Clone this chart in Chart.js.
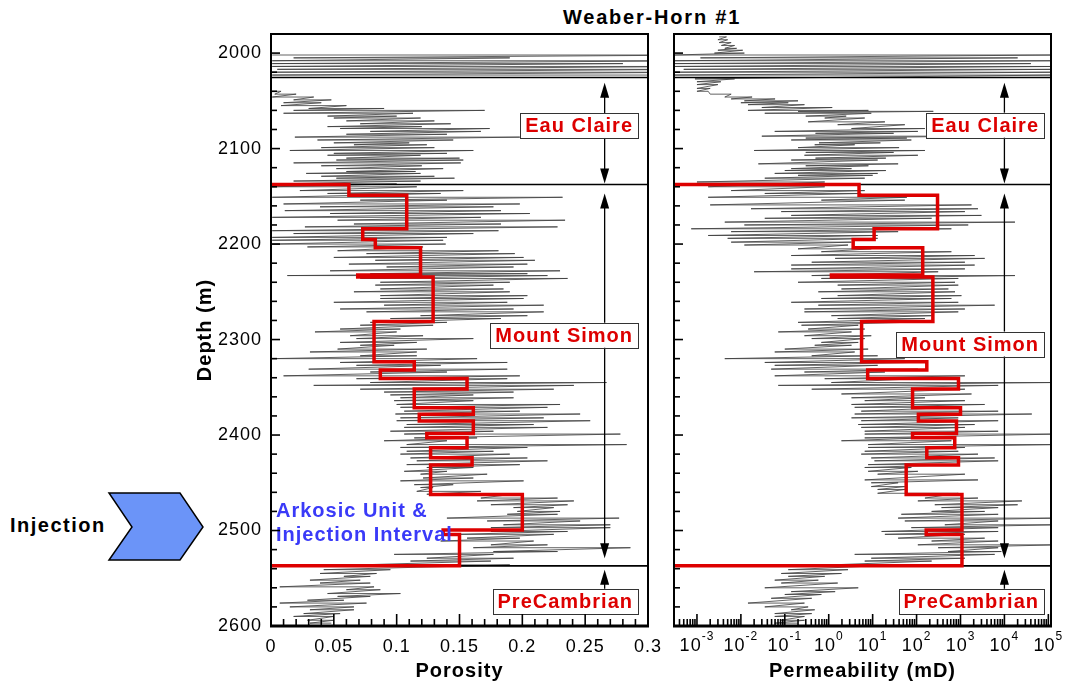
<!DOCTYPE html>
<html>
<head>
<meta charset="utf-8">
<script src="https://cdn.jsdelivr.net/npm/chart.js@4.4.1/dist/chart.umd.min.js"></script>
<style>
  html, body { margin: 0; padding: 0; background: #fff; }
  #wrap { position: relative; width: 1066px; height: 690px; overflow: hidden; font-family: "Liberation Sans", Arial, sans-serif; }
  #c1 { position: absolute; left: 0; top: 0; }
  #c2 { position: absolute; left: 660px; top: 0; }
  #title { position: absolute; left: 542px; width: 220px; top: 5px; line-height: 24px; text-align: center; font-weight: bold; font-size: 20px; letter-spacing: 1.8px; }
  #inj { position: absolute; left: 10px; top: 513px; line-height: 24px; font-weight: bold; font-size: 20px; letter-spacing: 1.5px; }
  #chev { position: absolute; left: 0; top: 0; }
</style>
</head>
<body>
<div id="wrap">
  <svg id="chev" width="230" height="690"><polygon points="109,493 180,493 203,527 180,560 109,560 132,527" fill="#6b94f8" stroke="#000" stroke-width="1.5"/></svg>
  <div id="title">Weaber-Horn #1</div>
  <div id="inj">Injection</div>
  <canvas id="c1" width="672" height="690"></canvas>
  <canvas id="c2" width="406" height="690"></canvas>
</div>
<script>
// ---- axis ticks
const poroTicks = [0, 0.05, 0.1, 0.15, 0.2, 0.25, 0.3];
const depthTicks = [2000, 2100, 2200, 2300, 2400, 2500, 2600];
const permTickExps = [-3, -2, -1, 0, 1, 2, 3, 4, 5];

// ---- formations
const zoneNames = ['Eau Claire', 'Mount Simon', 'PreCambrian'];
const zoneTops = [2025.6, 2137.6, 2537];
const poroLabelDepth = [2075.8, 2295.5, 2574.5];
const permLabelDepth = [2075.5, 2304.7, 2574.5];
const arrowTop = [2031, 2147, 2541];
const arrowBottom = [2136.5, 2529, 2561];
const arkosicLines = ['Arkosic Unit &', 'Injection Interval'];
const arkosicDepth = [2480, 2505];

// ---- porosity log (depth m, low / high of each swing)
const poroDepth = [
  2002, 2005, 2008, 2011, 2014, 2017, 2020, 2023, 2030, 2040,
  2043, 2046, 2049, 2052, 2055, 2058, 2060, 2063, 2066, 2068,
  2071, 2074, 2077, 2079, 2082, 2085, 2088, 2091, 2094, 2096,
  2099, 2102, 2105, 2107, 2110, 2112, 2115, 2118, 2121, 2124,
  2126, 2129, 2131, 2134, 2137, 2140, 2144, 2147, 2151, 2154,
  2158, 2161, 2165, 2168, 2172, 2175, 2179, 2182, 2186, 2189,
  2193, 2196, 2200, 2203, 2207, 2210, 2214, 2217, 2221, 2224,
  2228, 2231, 2233, 2236, 2240, 2243, 2247, 2250, 2254, 2257,
  2261, 2264, 2268, 2271, 2275, 2278, 2282, 2285, 2289, 2292,
  2296, 2299, 2303, 2306, 2310, 2313, 2317, 2320, 2324, 2327,
  2331, 2334, 2338, 2341, 2345, 2348, 2352, 2355, 2358, 2361,
  2364, 2368, 2371, 2375, 2378, 2382, 2385, 2389, 2392, 2396,
  2399, 2403, 2406, 2410, 2413, 2417, 2420, 2424, 2427, 2431,
  2434, 2438, 2441, 2445, 2448, 2452, 2455, 2459, 2462, 2466,
  2469, 2473, 2476, 2480, 2483, 2487, 2490, 2494, 2497, 2501,
  2504, 2508, 2511, 2515, 2518, 2522, 2525, 2529, 2532, 2536,
  2541, 2545, 2548, 2552, 2555, 2559, 2562, 2566, 2569, 2573,
  2576, 2580, 2583, 2587, 2590, 2594, 2597
];
const poroLow = [
  0.001, 0.018, 0.001, 0.001, 0.001, 0.005, 0.001, 0.001, null, 0.001,
  0.003, 0.001, 0.018, 0.010, 0.008, 0.030, 0.018, 0.010, 0.045, 0.050,
  0.060, 0.071, 0.045, 0.055, 0.079, 0.060, 0.019, 0.037, 0.050, 0.066,
  0.040, 0.015, 0.050, 0.045, 0.060, 0.052, 0.018, 0.040, 0.052, 0.060,
  0.028, 0.040, 0.052, 0.018, 0.001, 0.001, 0.023, 0.045, 0.001, 0.071,
  0.010, 0.039, 0.011, 0.047, 0.001, 0.053, 0.066, 0.027, 0.001, 0.018,
  0.001, 0.001, 0.001, 0.029, 0.053, 0.076, 0.050, 0.083, 0.062, 0.092,
  0.047, 0.079, 0.013, 0.071, 0.087, 0.083, 0.087, 0.066, 0.087, 0.087,
  0.050, 0.090, 0.055, 0.076, 0.119, 0.095, 0.079, 0.071, 0.055, 0.035,
  0.063, 0.068, 0.055, 0.071, 0.053, 0.031, 0.071, 0.001, 0.055, 0.068,
  0.030, 0.079, 0.010, 0.068, 0.079, 0.034, 0.071, 0.090, 0.095, 0.103,
  0.098, 0.100, 0.103, 0.106, 0.099, 0.103, 0.100, 0.108, 0.106, 0.095,
  0.106, 0.114, 0.090, 0.108, 0.103, 0.108, 0.103, 0.111, 0.116, 0.108,
  0.124, 0.106, 0.119, 0.121, 0.103, 0.114, 0.119, 0.116, 0.124, 0.167,
  0.164, 0.175, 0.193, 0.196, 0.188, 0.140, 0.172, 0.185, 0.175, 0.175,
  0.148, 0.156, 0.135, 0.175, 0.161, 0.177, 0.098, 0.124, 0.111, 0.071,
  0.042, 0.039, 0.058, 0.031, 0.039, 0.007, 0.060, 0.045, 0.053, 0.029,
  0.007, 0.015, 0.031, 0.026, 0.018, 0.029, 0.031
];
const poroHigh = [
  0.35, 0.19, 0.35, 0.28, 0.35, 0.35, 0.35, 0.35, null, 0.008,
  0.020, 0.034, 0.048, 0.040, 0.060, 0.090, 0.170, 0.113, 0.100, 0.119,
  0.130, 0.143, 0.120, 0.174, 0.167, 0.140, 0.198, 0.145, 0.110, 0.124,
  0.130, 0.161, 0.140, 0.119, 0.150, 0.153, 0.151, 0.120, 0.137, 0.115,
  0.119, 0.130, 0.146, 0.119, 0.100, 0.116, 0.153, 0.135, 0.232, 0.140,
  0.198, 0.177, 0.183, 0.206, 0.167, 0.234, 0.183, 0.228, 0.181, 0.161,
  0.140, 0.137, 0.139, 0.121, 0.181, 0.194, 0.201, 0.210, 0.204, 0.193,
  0.230, 0.204, 0.220, 0.236, 0.190, 0.177, 0.185, 0.190, 0.204, 0.201,
  0.188, 0.217, 0.193, 0.217, 0.204, 0.183, 0.140, 0.129, 0.103, 0.100,
  0.121, 0.161, 0.116, 0.098, 0.124, 0.116, 0.116, 0.164, 0.188, 0.135,
  0.188, 0.140, 0.198, 0.188, 0.267, 0.241, 0.225, 0.193, 0.161, 0.193,
  0.161, 0.230, 0.220, 0.198, 0.246, 0.217, 0.254, 0.209, 0.220, 0.177,
  0.278, 0.164, 0.140, 0.283, 0.204, 0.177, 0.190, 0.204, 0.220, 0.198,
  0.161, 0.140, 0.172, 0.161, 0.201, 0.145, 0.129, 0.167, 0.193, 0.228,
  0.241, 0.236, 0.225, 0.230, 0.228, 0.277, 0.246, 0.270, 0.270, 0.236,
  0.225, 0.198, 0.209, 0.220, 0.286, 0.228, 0.177, 0.193, 0.175, 0.190,
  0.095, 0.084, 0.079, 0.071, 0.079, 0.082, 0.087, 0.103, 0.079, 0.058,
  0.076, 0.066, 0.066, 0.055, 0.050, 0.050, 0.048
];

// ---- permeability log (mD)
const permDepth = [
  1983, 1986, 1989, 1992, 1995, 1997, 2000, 2002, 2005, 2008,
  2011, 2014, 2017, 2020, 2023, 2027, 2030, 2033, 2037, 2040,
  2043, 2046, 2048, 2050, 2052, 2054, 2057, 2060, 2061, 2063,
  2066, 2068, 2072, 2075, 2079, 2082, 2084, 2087, 2089, 2091,
  2094, 2096, 2099, 2102, 2104, 2107, 2110, 2112, 2116, 2118,
  2121, 2123, 2126, 2128, 2131, 2135, 2140, 2144, 2147, 2151,
  2154, 2159, 2163, 2166, 2170, 2173, 2177, 2180, 2184, 2187,
  2191, 2194, 2198, 2201, 2205, 2208, 2212, 2215, 2219, 2222,
  2226, 2229, 2233, 2236, 2240, 2243, 2247, 2250, 2254, 2257,
  2261, 2264, 2268, 2271, 2275, 2278, 2282, 2285, 2289, 2292,
  2296, 2299, 2303, 2306, 2310, 2313, 2317, 2320, 2324, 2327,
  2331, 2334, 2338, 2341, 2345, 2348, 2352, 2357, 2361, 2364,
  2368, 2371, 2375, 2378, 2382, 2385, 2389, 2392, 2396, 2399,
  2403, 2406, 2410, 2413, 2417, 2420, 2424, 2427, 2431, 2434,
  2438, 2441, 2447, 2450, 2454, 2457, 2461, 2466, 2469, 2473,
  2476, 2480, 2483, 2487, 2490, 2494, 2497, 2501, 2504, 2508,
  2511, 2515, 2518, 2522, 2525, 2529, 2532, 2536, 2541, 2545,
  2548, 2552, 2555, 2560, 2564, 2567, 2571, 2576, 2580, 2583,
  2587, 2590, 2594, 2597
];
const permLow = [
  0.0032, 0.003, 0.0032, 0.0036, 0.0043, 0.003, 0.0025, 0.0003, 0.0012, 0.0003,
  0.0003, 0.0003, 0.0005, 0.0003, 0.0003, 0.0009, 0.001, 0.001, 0.001, 0.001,
  0.002, 0.0043, 0.006, 0.012, 0.01, 0.0145, 0.03, 0.0145, 0.2, 0.035,
  0.3, 0.81, 0.34, 1.6, 3.3, 0.059, 0.5, 0.03, 0.3, 0.14,
  0.6, 0.48, 0.2, 0.02, 0.3, 0.28, 0.5, 0.14, 0.025, 0.3,
  0.14, 0.1, 0.059, 0.2, 0.035, 0.001, 0.0018, 0.006, 0.035, 0.0018,
  0.68, 0.002, 0.017, 0.083, 0.14, 0.035, 0.0043, 0.012, 0.00074, 0.006,
  0.0018, 0.005, 0.006, 0.012, 0.2, 0.68, 0.14, 1.4, 0.41, 0.14,
  0.14, 0.02, 0.41, 0.68, 0.2, 1.6, 1.95, 0.58, 1.6, 0.68,
  0.14, 0.58, 0.28, 0.28, 1.15, 1.6, 0.2, 0.24, 0.34, 0.071,
  0.28, 0.41, 0.68, 0.48, 0.1, 0.059, 0.41, 0.0043, 0.035, 0.059,
  0.049, 0.28, 0.059, 0.81, 1.15, 0.071, 0.41, 1.95, 3.3, 6.6,
  3.3, 3.9, 5.5, 3.9, 3.3, 5.5, 4.7, 5.5, 6.6, 6.6,
  6.6, 1.95, 7.9, 7.9, 6.6, 5.5, 9.3, 11, 7.9, 6.6,
  7.9, 13, 6.6, 9.3, 9.3, 13, 13, 155, 107, 260,
  370, 220, 45, 38, 54, 440, 76, 16, 19, 38,
  220, 107, 310, 520, 3.9, 9.3, 6.6, 1.15, 0.12, 0.083,
  0.12, 0.059, 0.083, 0.035, 0.14, 0.1, 0.049, 0.0145, 0.035, 0.14,
  0.059, 0.059, 0.083, 0.059
];
const permHigh = [
  0.0047, 0.005, 0.006, 0.0072, 0.008, 0.011, 0.012, 150000, 20000, 150000,
  40000, 150000, 150000, 150000, 150000, 0.0072, 0.0035, 0.003, 0.002, 0.0018,
  0.006, 0.018, 0.06, 0.2, 0.12, 0.28, 1.2, 8, 240, 9.3,
  2.5, 6.6, 19, 54, 155, 107, 30, 3000, 60, 76,
  15, 3.9, 40, 155, 30, 107, 20, 13, 38, 8,
  3.3, 20, 13, 10, 6.6, 0.81, 0.81, 6.6, 5.5, 60,
  54, 1780, 2500, 1260, 3000, 220, 17400, 1500, 620, 38,
  13, 13, 3.3, 2.75, 9.3, 620, 2100, 3550, 1260, 2100,
  1260, 310, 17400, 890, 750, 890, 530, 750, 1050, 620,
  890, 6000, 1260, 890, 220, 155, 54, 4.7, 6.6, 3.3,
  9.3, 6.6, 4.7, 3.3, 7.9, 3.9, 13, 54, 76, 13,
  107, 19, 1260, 107, 150000, 7200, 1260, 1780, 155, 1260,
  3550, 750, 7200, 42000, 890, 7200, 2100, 1260, 7200, 150000,
  155, 620, 150000, 1260, 890, 2500, 6000, 7200, 890, 76,
  107, 1260, 2500, 38, 54, 54, 890, 2500, 25000, 20000,
  7200, 3550, 7200, 150000, 7200, 150000, 7200, 7200, 1260, 3550,
  7200, 150000, 7200, 8500, 6000, 1260, 220, 38, 2.75, 1.95,
  0.81, 0.58, 1.6, 4.7, 1.4, 0.68, 0.41, 0.28, 0.34, 0.48,
  0.41, 0.28, 0.28, 0.2
];

// ---- upscaled layer model (red)
const layerDepth = [2137.6, 2148.9, 2183.9, 2195.1, 2203.8, 2232.5, 2234.6, 2281.2, 2323.2, 2331.9,
  2340.7, 2351.9, 2371.3, 2378.3, 2385.3, 2398.3, 2402.8, 2413.3, 2423.8, 2431.5, 2462.3, 2499.4, 2504.3, 2537];
const layerPoro = [0.062, 0.108, 0.073, 0.083, 0.119, 0.069, 0.129, 0.082, 0.114, 0.087, 0.156, 0.114,
  0.161, 0.118, 0.161, 0.124, 0.156, 0.127, 0.160, 0.127, 0.200, 0.137, 0.150];
const layerPerm = [4.9, 300, 10.8, 3.6, 138, 1.15, 235, 5.6, 171, 7.7, 900, 81,
  1000, 110, 810, 81, 740, 171, 900, 58, 1080, 166, 1080];

const permMin = 3e-4, permMax = 1.15e5;
const FONT = '"Liberation Sans", Arial, sans-serif';
Chart.defaults.font.family = FONT;
Chart.defaults.color = '#000';

// log trace: each sample swings low -> high, then runs back to the next low
function buildTrace(depth, low, high) {
  const pts = [];
  depth.forEach((d, i) => {
    if (low[i] === null) { pts.push({x: null, y: d}); return; }
    pts.push({x: low[i], y: d}, {x: high[i], y: d});
  });
  return pts;
}

function buildSteps(values, edge) {
  const pts = [{x: edge, y: layerDepth[0]}];
  values.forEach((v, i) => {
    pts.push({x: v, y: layerDepth[i]}, {x: v, y: layerDepth[i + 1]});
  });
  pts.push({x: edge, y: layerDepth[layerDepth.length - 1]});
  return pts;
}

function head(ctx, x, y, dir) {
  ctx.beginPath();
  ctx.moveTo(x, y);
  ctx.lineTo(x - 4.5, y + dir * 15);
  ctx.lineTo(x + 4.5, y + dir * 15);
  ctx.closePath();
  ctx.fill();
}

function tick(ctx, x1, y1, x2, y2) {
  ctx.beginPath(); ctx.moveTo(x1, y1); ctx.lineTo(x2, y2); ctx.stroke();
}

function makeDecor(o) {
  return {
    id: 'decor',
    beforeDraw(chart) { chart.ctx.letterSpacing = '1px'; },
    afterDatasetDraw(chart, args) {
      if (args.index !== 0) return;
      // formation boundaries, over the log but under the red model
      const ctx = chart.ctx, a = chart.chartArea, y = chart.scales.y;
      ctx.save();
      ctx.strokeStyle = '#000';
      ctx.lineWidth = 1.6;
      zoneTops.forEach(d => tick(ctx, a.left, y.getPixelForValue(d), a.right, y.getPixelForValue(d)));
      ctx.restore();
    },
    afterDatasetsDraw(chart) {
      const ctx = chart.ctx, a = chart.chartArea, x = chart.scales.x, y = chart.scales.y;
      ctx.save();
      ctx.letterSpacing = '0px';

      // arrows
      const ax = x.getPixelForValue(o.arrowValue);
      ctx.strokeStyle = '#000';
      ctx.fillStyle = '#000';
      ctx.lineWidth = 1.3;
      zoneNames.forEach((n, i) => {
        const y1 = y.getPixelForValue(arrowTop[i]);
        const y2 = y.getPixelForValue(arrowBottom[i]);
        const both = i < 2;
        tick(ctx, ax, y1 + 8, ax, both ? y2 - 8 : y2);
        head(ctx, ax, y1, 1);
        if (both) head(ctx, ax, y2, -1);
      });

      // formation boxes
      ctx.font = 'bold 20px ' + FONT;
      ctx.letterSpacing = '1px';
      ctx.textAlign = 'center';
      ctx.textBaseline = 'middle';
      zoneNames.forEach((n, i) => {
        const w = ctx.measureText(n).width + 10, h = 25;
        const cy = y.getPixelForValue(o.labelDepth[i]);
        const rx = a.right - o.boxGap;
        ctx.fillStyle = '#fff';
        ctx.fillRect(rx - w, cy - h / 2, w, h);
        ctx.strokeStyle = '#333';
        ctx.lineWidth = 1;
        ctx.strokeRect(Math.round(rx - w) + 0.5, Math.round(cy - h / 2) + 0.5, Math.round(w), h);
        ctx.fillStyle = '#dd0000';
        ctx.fillText(n, rx - w / 2, cy + 1);
      });

      if (o.arkosic) {
        ctx.fillStyle = '#3a3af8';
        ctx.textAlign = 'left';
        arkosicLines.forEach((t, i) => ctx.fillText(t, a.left + 5, y.getPixelForValue(arkosicDepth[i])));
      }

      // frame
      ctx.strokeStyle = '#000';
      ctx.lineWidth = 2;
      ctx.strokeRect(a.left, a.top, a.right - a.left, a.bottom - a.top);
      ctx.lineWidth = 3;
      tick(ctx, a.left - 1, a.bottom, a.right + 1, a.bottom);

      // inward depth ticks
      ctx.lineWidth = 1.6;
      for (let d = 1980; d <= 2600; d += 20) {
        const py = y.getPixelForValue(d);
        tick(ctx, a.left, py, a.left + (d % 100 === 0 ? 9 : 6), py);
      }
      o.xTicks(ctx, a, x);
      ctx.restore();
    }
  };
}

// ---------------------------------------------------------------- porosity
new Chart(document.getElementById('c1'), {
  type: 'scatter',
  data: {
    datasets: [
      { data: buildTrace(poroDepth, poroLow, poroHigh), showLine: true, order: 2,
        borderColor: 'rgba(60,60,60,0.8)', borderWidth: 1, pointRadius: 0 },
      { data: buildSteps(layerPoro, 0), showLine: true, order: 1,
        borderColor: '#dd0000', borderWidth: 3.5, pointRadius: 0 }
    ]
  },
  options: {
    responsive: false, animation: false, devicePixelRatio: 1, events: [],
    layout: { padding: { left: 190, right: 24, top: 34, bottom: 0 } },
    plugins: { legend: { display: false }, tooltip: { enabled: false } },
    scales: {
      x: {
        type: 'linear', min: 0, max: 0.3,
        grid: { display: false, drawTicks: false }, border: { display: false },
        afterBuildTicks: s => { s.ticks = poroTicks.map(v => ({ value: v })); },
        ticks: { font: { size: 18 }, padding: 10, maxRotation: 0, callback: v => String(v) },
        title: { display: true, text: 'Porosity', font: { size: 20, weight: 'bold' }, padding: { top: 0, bottom: 7 } },
        afterFit: s => { s.height = 64; }
      },
      y: {
        type: 'linear', min: 1980, max: 2600, reverse: true,
        grid: { display: false, drawTicks: false }, border: { display: false },
        afterBuildTicks: s => { s.ticks = depthTicks.map(v => ({ value: v })); },
        ticks: { font: { size: 18 }, padding: 9, callback: v => String(v) },
        title: { display: true, text: 'Depth (m)', font: { size: 20, weight: 'bold' }, padding: { top: 3, bottom: 0 } },
        afterFit: s => { s.width = 81; }
      }
    }
  },
  plugins: [makeDecor({
    arrowValue: 0.2655, labelDepth: poroLabelDepth, boxGap: 10, arkosic: true,
    xTicks(ctx, a, x) {
      for (let i = 0; i <= 30; i++) {
        const px = x.getPixelForValue(i / 100);
        tick(ctx, px, a.bottom, px, a.bottom - (i % 5 === 0 ? 12 : 7));
      }
    }
  })]
});

// ---------------------------------------------------------------- permeability
new Chart(document.getElementById('c2'), {
  type: 'scatter',
  data: {
    datasets: [
      { data: buildTrace(permDepth, permLow, permHigh), showLine: true, order: 2,
        borderColor: 'rgba(60,60,60,0.8)', borderWidth: 1, pointRadius: 0 },
      { data: buildSteps(layerPerm, permMin), showLine: true, order: 1,
        borderColor: '#dd0000', borderWidth: 3.5, pointRadius: 0 }
    ]
  },
  options: {
    responsive: false, animation: false, devicePixelRatio: 1, events: [],
    layout: { padding: { left: 14, right: 15, top: 34, bottom: 0 } },
    plugins: { legend: { display: false }, tooltip: { enabled: false } },
    scales: {
      x: {
        type: 'logarithmic', min: permMin, max: permMax,
        grid: { display: false, drawTicks: false }, border: { display: false },
        ticks: { display: false },
        title: { display: true, text: 'Permeability (mD)', font: { size: 20, weight: 'bold' }, padding: { top: 0, bottom: 7 } },
        afterFit: s => { s.height = 64; }
      },
      y: { type: 'linear', min: 1980, max: 2600, reverse: true, display: false }
    }
  },
  plugins: [makeDecor({
    arrowValue: 1e4, labelDepth: permLabelDepth, boxGap: 7, arkosic: false,
    xTicks(ctx, a, x) {
      for (let e = -4; e <= 5; e++) {
        for (let m = 1; m <= 9; m++) {
          const v = m * Math.pow(10, e);
          if (v < permMin || v > permMax) continue;
          const px = x.getPixelForValue(v);
          tick(ctx, px, a.bottom, px, a.bottom - (m === 1 ? 12 : 7));
        }
      }
      // decade labels 10^n
      ctx.fillStyle = '#000';
      ctx.textBaseline = 'middle';
      ctx.textAlign = 'left';
      ctx.letterSpacing = '1px';
      permTickExps.forEach(e => {
        const px = x.getPixelForValue(Math.pow(10, e));
        const sup = String(e);
        ctx.font = '18px ' + FONT;
        const w1 = ctx.measureText('10').width;
        ctx.font = '12px ' + FONT;
        const w2 = ctx.measureText(sup).width;
        const x0 = px - (w1 + w2) / 2;
        ctx.font = '18px ' + FONT;
        ctx.fillText('10', x0, a.bottom + 20);
        ctx.font = '12px ' + FONT;
        ctx.fillText(sup, x0 + w1, a.bottom + 11);
      });
    }
  })]
});
</script>
</body>
</html>
